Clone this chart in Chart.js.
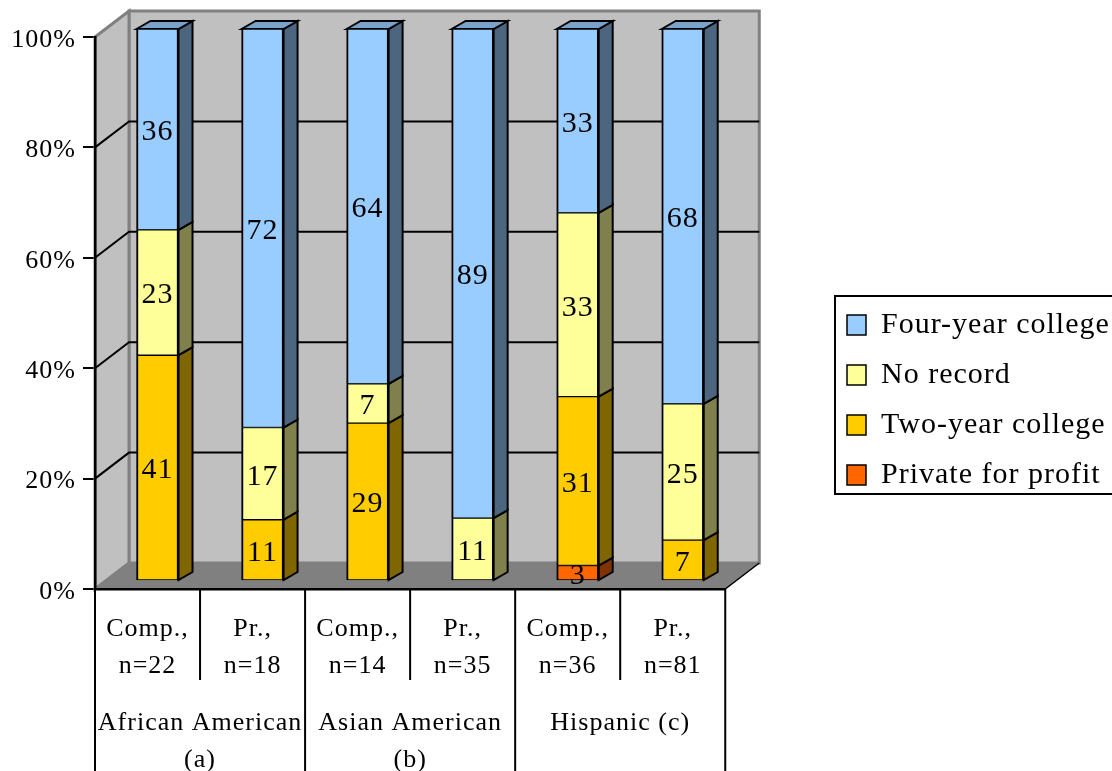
<!DOCTYPE html>
<html>
<head>
<meta charset="utf-8">
<script src="https://cdn.jsdelivr.net/npm/chart.js@4"></script>
<style>
    html, body { margin: 0; padding: 0; background: #fff; }
    canvas { display: block; }
</style>
</head>
<body>
<canvas id="chart" width="1112" height="771"></canvas>
<script>
// chart data
const categories = [
    ["Comp.,", "n=22"], ["Pr.,", "n=18"],
    ["Comp.,", "n=14"], ["Pr.,", "n=35"],
    ["Comp.,", "n=36"], ["Pr.,", "n=81"]
];
const groups = [["African American", "(a)"], ["Asian American", "(b)"], ["Hispanic (c)", ""]];
const privateForProfit = [0, 0, 0, 0, 2.8, 0];
const twoYear = [40.9, 11.1, 28.6, 0, 30.6, 7.4];
const noRecord = [22.7, 16.7, 7.1, 11.4, 33.3, 24.7];
const fourYear = [36.4, 72.2, 64.3, 88.6, 33.3, 67.9];
const yTicks = [0, 20, 40, 60, 80, 100];

// 3d look: wall depth, bar shift inside the plot, bar depth
const WALL = { dx: 34, dy: -26 };
const SHIFT = { dx: 10, dy: -8 };
const DEPTH = { dx: 14, dy: -8 };
const FONT = "'Liberation Serif', serif";

const sideColors = ["#803300", "#806600", "#80804C", "#4C6680"];
const topColors = ["#CC5200", "#CCA300", "#CCCC7A", "#7AA3CC"];

function poly(ctx, pts, fill, stroke, lw) {
    ctx.beginPath();
    pts.forEach((p, i) => (i ? ctx.lineTo(p[0], p[1]) : ctx.moveTo(p[0], p[1])));
    ctx.closePath();
    if (fill) {
        ctx.fillStyle = fill;
        ctx.fill();
    }
    if (stroke) {
        ctx.strokeStyle = stroke;
        ctx.lineWidth = lw;
        ctx.stroke();
    }
}

function line(ctx, x1, y1, x2, y2, color, lw) {
    ctx.beginPath();
    ctx.moveTo(x1, y1);
    ctx.lineTo(x2, y2);
    ctx.strokeStyle = color;
    ctx.lineWidth = lw;
    ctx.stroke();
}

const look3d = {
    id: "look3d",
    beforeLayout(chart) {
        chart.ctx.letterSpacing = "1px";
    },
    afterLayout(chart) {
        // legend sits in a frame next to the plot
        chart.legend.left = 827;
        chart.legend.right = chart.width;
        chart.legend.width = chart.width - 827;
        chart.legend.top -= 4;
        chart.legend.bottom -= 4;
    },
    beforeDraw(chart) {
        const ctx = chart.ctx;
        ctx.letterSpacing = "1px";
        const lg = chart.legend;
        const mid = (lg.top + lg.bottom) / 2 - 5;
        ctx.save();
        ctx.fillStyle = "#fff";
        ctx.fillRect(0, 0, chart.width, chart.height);
        poly(ctx, [[lg.left + 8, mid - 99], [chart.width + 5, mid - 99], [chart.width + 5, mid + 99], [lg.left + 8, mid + 99]], "#fff", "#000", 2);
        ctx.restore();
    },
    beforeDatasetsDraw(chart) {
        const ctx = chart.ctx;
        const { left, right, top, bottom } = chart.chartArea;
        const y = chart.scales.y;
        ctx.save();

        // back wall, side wall, floor
        poly(ctx, [[left + WALL.dx, top + WALL.dy], [right + WALL.dx, top + WALL.dy], [right + WALL.dx, bottom + WALL.dy], [left + WALL.dx, bottom + WALL.dy]], "#C0C0C0", "#808080", 3);
        poly(ctx, [[left, top], [left + WALL.dx, top + WALL.dy], [left + WALL.dx, bottom + WALL.dy], [left, bottom]], "#C0C0C0", "#808080", 3);
        poly(ctx, [[left, bottom], [left + WALL.dx, bottom + WALL.dy], [right + WALL.dx, bottom + WALL.dy], [right, bottom]], "#808080", "#808080", 1);
        line(ctx, right, bottom, right + WALL.dx, bottom + WALL.dy, "#000", 1.5);

        // gridlines run up the side wall and along the back
        yTicks.filter((v) => v > 0 && v < 100).forEach((v) => {
            const py = y.getPixelForValue(v);
            ctx.beginPath();
            ctx.moveTo(left, py);
            ctx.lineTo(left + WALL.dx, py + WALL.dy);
            ctx.lineTo(right + WALL.dx, py + WALL.dy);
            ctx.strokeStyle = "#000";
            ctx.lineWidth = 2;
            ctx.stroke();
        });

        // bar depth faces
        ctx.translate(SHIFT.dx, SHIFT.dy);
        chart.data.datasets.forEach((ds, d) => {
            const meta = chart.getDatasetMeta(d);
            meta.data.forEach((el, i) => {
                if (!ds.data[i]) return;
                const r = el.x + el.width / 2;
                const l = el.x - el.width / 2;
                poly(ctx, [[r, el.y], [r + DEPTH.dx, el.y + DEPTH.dy], [r + DEPTH.dx, el.base + DEPTH.dy], [r, el.base]], sideColors[d], "#000", 2);
                if (el.y <= y.getPixelForValue(100) + 0.5) {
                    poly(ctx, [[l, el.y], [l + DEPTH.dx, el.y + DEPTH.dy], [r + DEPTH.dx, el.y + DEPTH.dy], [r, el.y]], topColors[d], "#000", 2);
                }
            });
        });
        ctx.restore();

        // fronts of the bars are moved the same way
        ctx.save();
        ctx.translate(SHIFT.dx, SHIFT.dy);
    },
    afterDatasetsDraw(chart) {
        const ctx = chart.ctx;
        ctx.font = "30px " + FONT;
        ctx.textAlign = "center";
        ctx.textBaseline = "middle";
        ctx.fillStyle = "#000";
        chart.data.datasets.forEach((ds, d) => {
            chart.getDatasetMeta(d).data.forEach((el, i) => {
                if (ds.data[i]) ctx.fillText(String(Math.round(ds.data[i])), el.x, (el.y + el.base) / 2 + 3);
            });
        });
        ctx.restore();
    },
    afterDraw(chart) {
        // lines of the table below the plot
        const ctx = chart.ctx;
        const { x, x2 } = chart.scales;
        const slot = x.width / categories.length;
        ctx.save();
        for (let i = 0; i <= categories.length; i++) {
            const px = x.left + i * slot;
            line(ctx, px, x.top, px, i % 2 ? x.bottom : x2.bottom, "#000", 2);
        }
        ctx.restore();
    }
};

new Chart(document.getElementById("chart"), {
    type: "bar",
    plugins: [look3d],
    data: {
        labels: categories,
        datasets: [
            { label: "Private for profit", data: privateForProfit, backgroundColor: "#FF6600" },
            { label: "Two-year college", data: twoYear, backgroundColor: "#FFCC00" },
            { label: "No record", data: noRecord, backgroundColor: "#FFFF99" },
            { label: "Four-year college", data: fourYear, backgroundColor: "#99CCFF" }
        ].map((ds) => ({
            ...ds,
            borderColor: "#000",
            borderWidth: { top: 1, bottom: 1, left: 2, right: 2 },
            borderSkipped: false,
            barThickness: 42,
            clip: false
        }))
    },
    options: {
        responsive: false,
        animation: false,
        layout: { padding: { top: 37, right: 145 } },
        plugins: {
            tooltip: { enabled: false },
            legend: {
                position: "right",
                reverse: true,
                labels: {
                    color: "#000",
                    boxWidth: 19,
                    boxHeight: 20,
                    padding: 20,
                    font: { family: FONT, size: 30 }
                }
            }
        },
        scales: {
            x: {
                stacked: true,
                grid: { display: false },
                border: { color: "#000", width: 2.5, z: 1 },
                afterFit(scale) { scale.height = 91; },
                ticks: {
                    color: "#000",
                    padding: 14,
                    autoSkip: false,
                    maxRotation: 0,
                    font: { family: FONT, size: 26, lineHeight: 1.42 }
                }
            },
            x2: {
                type: "category",
                labels: groups,
                position: "bottom",
                offset: true,
                grid: { display: false },
                border: { display: false },
                afterFit(scale) { scale.height = 91; },
                ticks: {
                    color: "#000",
                    padding: 17,
                    autoSkip: false,
                    maxRotation: 0,
                    font: { family: FONT, size: 26, lineHeight: 1.42 }
                }
            },
            y: {
                stacked: true,
                min: 0,
                max: 100,
                afterFit(scale) { scale.width = 95; },
                afterBuildTicks(scale) { scale.ticks = yTicks.map((v) => ({ value: v })); },
                grid: { drawOnChartArea: false, color: "#000", lineWidth: 2, tickLength: 12 },
                border: { color: "#000", width: 2.5, z: 1 },
                ticks: {
                    color: "#000",
                    padding: 7,
                    labelOffset: 3,
                    font: { family: FONT, size: 26 },
                    callback: (v) => v + "%"
                }
            }
        }
    }
});
</script>
</body>
</html>
